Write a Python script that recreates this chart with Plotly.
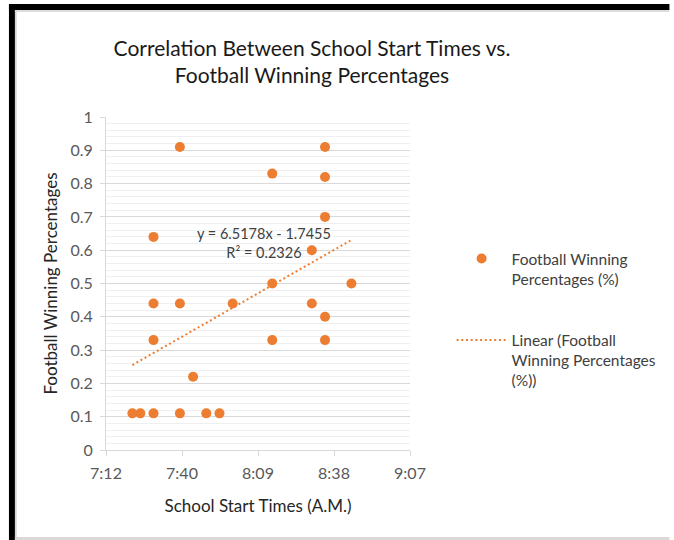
import plotly.graph_objects as go

# ---- data ----
start_times = ["7:22", "7:25", "7:30", "7:30", "7:30", "7:30", "7:40", "7:40", "7:40",
               "7:45", "7:50", "7:55", "8:00", "8:15", "8:15", "8:15", "8:30", "8:30",
               "8:35", "8:35", "8:35", "8:35", "8:35", "8:45"]
win_pct = [0.11, 0.11, 0.11, 0.33, 0.44, 0.64, 0.91, 0.44, 0.11,
           0.22, 0.11, 0.11, 0.44, 0.83, 0.50, 0.33, 0.60, 0.44,
           0.91, 0.82, 0.70, 0.40, 0.33, 0.50]
x_tick_vals = [0.30, 0.32, 0.34, 0.36, 0.38]   # fraction of a day
x_tick_text = ["7:12", "7:40", "8:09", "8:38", "9:07"]
trend_slope = 6.5178
trend_intercept = -1.7455
trend_r2 = 0.2326


def to_day_fraction(t):
    h, m = t.split(":")
    return (int(h) * 60 + int(m)) / 1440.0


x_days = [to_day_fraction(t) for t in start_times]
trend_x = [min(x_days), max(x_days)]
trend_y = [trend_slope * v + trend_intercept for v in trend_x]

W, H = 674, 540
L, R, T, B = 106, 413, 117, 450  # plot-area pixel edges


def px(xp):
    return (xp - L) / (R - L)


def py(yp):
    return (B - yp) / (B - T)


FONT = "Lato"
ORANGE = "#ED7D31"

fig = go.Figure()
fig.add_trace(go.Scatter(
    x=x_days, y=win_pct, mode="markers",
    name="Football Winning<br>Percentages (%)",
    marker=dict(color=ORANGE, size=10, line=dict(width=0)),
    legendgroup="a",
))
fig.add_trace(go.Scatter(
    x=trend_x, y=trend_y, mode="lines",
    name="Linear (Football<br>Winning Percentages<br>(%))",
    line=dict(color=ORANGE, width=2, dash="2px,2.7px"),
    legendgroup="b",
))

fig.add_annotation(
    x=px(266), y=py(243), xref="paper", yref="paper",
    text=f"y = {trend_slope}x - {abs(trend_intercept)}<br>R² = {trend_r2}",
    showarrow=False, align="center",
    font=dict(family=FONT, size=14.5, color="#404040"),
)

shapes = [
    # black frame top & left
    dict(type="rect", xref="paper", yref="paper", x0=px(8), x1=px(675), y0=py(10), y1=py(4),
         fillcolor="black", line=dict(width=0), layer="above"),
    dict(type="rect", xref="paper", yref="paper", x0=px(8), x1=px(14), y0=py(541), y1=py(4),
         fillcolor="black", line=dict(width=0), layer="above"),
    # light gray inner edges
    dict(type="line", xref="paper", yref="paper", x0=px(14), x1=px(675), y0=py(11), y1=py(11),
         line=dict(color="#D0D0D0", width=1.5), layer="above"),
    dict(type="line", xref="paper", yref="paper", x0=px(15), x1=px(15), y0=py(11), y1=py(541),
         line=dict(color="#D0D0D0", width=1.5), layer="above"),
    dict(type="rect", xref="paper", yref="paper", x0=px(14), x1=px(675), y0=py(541), y1=py(537),
         fillcolor="#D9D9D9", line=dict(width=0), layer="above"),
]

fig.update_layout(
    width=W, height=H,
    margin=dict(l=L, r=W - R, t=T, b=H - B, pad=0),
    paper_bgcolor="white", plot_bgcolor="white",
    font=dict(family=FONT, color="#595959"),
    title=dict(
        text="Correlation Between School Start Times vs.<br>Football Winning Percentages",
        x=312 / W, xanchor="center", xref="container",
        y=1 - 56 / H, yanchor="middle", yref="container",
        font=dict(family=FONT, size=21, color="#1a1a1a"),
    ),
    xaxis=dict(
        range=[0.30, 0.38], tickvals=x_tick_vals, ticktext=x_tick_text,
        showgrid=False, zeroline=False,
        showline=True, linecolor="#D9D9D9", linewidth=1,
        ticks="outside", ticklen=5, tickcolor="#D9D9D9", ticklabelstandoff=4,
        tickfont=dict(family=FONT, size=16, color="#595959"),
        title=dict(text="School Start Times (A.M.)", standoff=18,
                   font=dict(family=FONT, size=17, color="#262626")),
    ),
    yaxis=dict(
        range=[0, 1], dtick=0.1, showgrid=True, gridcolor="#D9D9D9", gridwidth=1,
        zeroline=False, showline=True, linecolor="#D9D9D9", linewidth=1,
        ticks="outside", ticklen=5, tickcolor="#D9D9D9", ticklabelstandoff=4,
        minor=dict(dtick=0.02, showgrid=True, gridcolor="#EFEFEF", gridwidth=1),
        tickfont=dict(family=FONT, size=16, color="#595959"),
        title=dict(text="Football Winning Percentages", standoff=8,
                   font=dict(family=FONT, size=17, color="#262626")),
    ),
    legend=dict(
        x=px(455), xanchor="left", y=py(242), yanchor="top",
        font=dict(family=FONT, size=15.5, color="#404040"),
        valign="top", tracegroupgap=38, itemwidth=50,
        bgcolor="rgba(0,0,0,0)",
    ),
    shapes=shapes,
)

fig.write_html("out.html",
               config={"displayModeBar": False},
               post_script="document.body.style.margin='0px';document.body.style.overflow='hidden';")
